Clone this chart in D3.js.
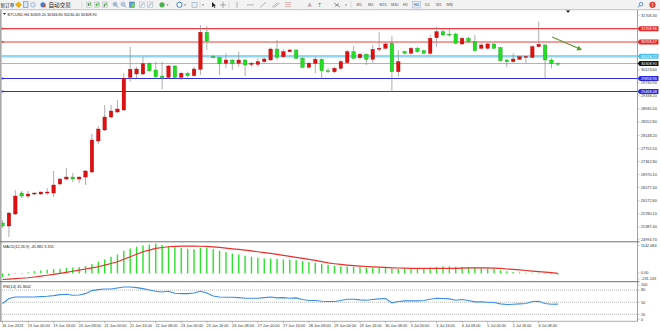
<!DOCTYPE html>
<html>
<head>
<meta charset="utf-8">
<script src="https://cdn.jsdelivr.net/npm/d3@7"></script>
<style>
  body { margin: 0; background: #fff; }
  svg { display: block; font-family: "Liberation Sans", Arial, sans-serif; }
</style>
</head>
<body>
<div id="chart"></div>
<script>
// ---- data ----
const symbolTitle = "BTCUSD,H4 30309.20 30346.80 30240.40 30308.90";

const opens = [25509, 25418, 25780, 26412, 26321, 26381, 26381, 26412, 26412, 26683,
  26833, 26893, 26833, 26893, 27044, 27977, 28308, 28699, 28850, 28910,
  29894, 29994, 29994, 30316, 30114, 29933, 29894, 30234, 29894, 30015,
  29942, 30135, 31249, 30514, 30484, 30316, 30415, 30316, 30415, 30286,
  30286, 30364, 30415, 30746, 30514, 30665, 30716, 30466, 30195, 30316,
  30436, 30090, 30063, 30165, 30334, 30665, 30484, 30587, 30436, 30737,
  30767, 30918, 30063, 30665, 30617, 30767, 30695, 30617, 31086, 31267,
  31189, 31198, 30897, 31068, 30966, 30767, 30767, 30897, 30785, 30415,
  30364, 30436, 30514, 30496, 30815, 30867, 30415, 30309.2];
const highs = [25599, 25840, 26502, 26472, 26472, 26421, 26451, 26562, 27074, 26863,
  27164, 27014, 26910, 27104, 28188, 28428, 29060, 29060, 29211, 30024,
  30815, 30213, 30514, 30346, 30364, 30364, 30264, 30264, 30063, 30063,
  30213, 31469, 31438, 30566, 30514, 30617, 30436, 30665, 30436, 30364,
  30466, 30484, 30797, 31017, 30737, 30746, 30737, 30514, 30364, 30514,
  30466, 30174, 30213, 30415, 30716, 30836, 30635, 30617, 30867, 31249,
  30936, 31137, 30716, 30695, 30815, 30815, 30716, 31168, 31417, 31339,
  31339, 31237, 31116, 31116, 31168, 30918, 30936, 30918, 30815, 30436,
  30617, 30536, 30536, 30867, 31568, 30897, 30466, 30346.8];
const lows = [25358, 25087, 25749, 26261, 26261, 26351, 26351, 26351, 26291, 26652,
  26803, 26743, 26713, 26652, 27014, 27887, 28278, 28669, 28820, 28880,
  29762, 29873, 29963, 30063, 29864, 29533, 29864, 29864, 29813, 29894,
  29912, 29963, 30716, 30466, 29963, 30165, 30114, 30213, 29933, 30204,
  30213, 30334, 30394, 30415, 30496, 30647, 30445, 30165, 30165, 30015,
  29864, 30024, 30015, 30114, 30316, 30436, 30436, 30265, 30334, 30665,
  30737, 29461, 29912, 30587, 30596, 30635, 30596, 30566, 30815, 31137,
  31116, 30897, 30867, 30918, 30665, 30737, 30737, 30737, 30364, 30195,
  30334, 30415, 30316, 30466, 30797, 29864, 30165, 30240.4];
const closes = [25418, 25810, 26321, 26321, 26381, 26412, 26442, 26442, 26653, 26833,
  26893, 26833, 26893, 27074, 28007, 28338, 28699, 28880, 28940, 29864,
  30135, 30144, 30304, 30093, 29912, 29882, 30234, 29894, 30015, 29942,
  30144, 31249, 30987, 30484, 30316, 30415, 30316, 30415, 30265, 30316,
  30364, 30445, 30746, 30496, 30665, 30716, 30466, 30195, 30316, 30436,
  30093, 30080, 30165, 30364, 30665, 30466, 30587, 30436, 30737, 30767,
  30897, 30063, 30364, 30617, 30767, 30665, 30617, 31068, 31267, 31168,
  31168, 30918, 31068, 30966, 30695, 30867, 30897, 30767, 30394, 30364,
  30445, 30514, 30520, 30815, 30888, 30415, 30316, 30308.9];

// MACD(12,26,9): histogram = main line, red line = signal
const macdMain = [-130, -90, -20, 15, 41, 89, 115, 140, 165, 178,
  204, 229, 242, 280, 356, 445, 534, 636, 725, 865,
  954, 1018, 1068, 1100, 1142.684, 1090, 1043, 1018, 979, 941,
  928, 979, 992, 928, 865, 814, 763, 725, 674, 636,
  598, 572, 572, 560, 534, 522, 509, 471, 433, 407,
  369, 331, 300, 275, 265, 255, 240, 225, 215, 215,
  220, 175, 170, 180, 190, 195, 195, 220, 250, 265,
  270, 255, 250, 240, 215, 200, 190, 170, 120, 85,
  60, 40, 20, 25, 30, -5, -30, -45.882];
const macdSignal = [-231.143, -215, -200, -183, -165, -135, -100, -70, -38, 0,
  40, 85, 127, 170, 210, 254, 315, 380, 445, 540,
  636, 730, 827, 890, 954, 990, 1018, 1032, 1043, 1045,
  1043, 1038, 1030, 1012, 992, 968, 941, 915, 890, 858,
  827, 795, 763, 725, 687, 650, 611, 572, 534, 500,
  450, 400, 370, 345, 320, 300, 280, 265, 250, 238,
  228, 216, 208, 200, 195, 192, 191, 191, 192, 194,
  196, 196, 205, 210, 214, 216, 210, 200, 190, 170,
  153, 135, 112, 89, 70, 52, 30, 3.355];

// RSI(14)
const rsi = [46.8, 59.1, 63.1, 63.1, 63.1, 63.1, 64.0, 64.8, 66.4, 68.9,
  69.7, 67.2, 68.0, 71.3, 78.7, 81.1, 82.8, 82.8, 85.2, 87.7,
  87.7, 86.0, 83.6, 80.3, 77.0, 75.4, 77.0, 72.1, 71.3, 71.3,
  72.9, 77.0, 72.9, 65.6, 63.1, 62.3, 62.3, 61.5, 59.9, 59.9,
  59.9, 61.5, 63.1, 60.7, 61.5, 59.9, 60.7, 56.6, 54.2, 54.2,
  52.5, 51.7, 51.7, 54.2, 57.4, 57.4, 55.8, 55.0, 56.6, 58.3,
  59.1, 48.5, 51.7, 53.3, 53.3, 53.3, 54.2, 57.4, 59.9, 59.1,
  58.3, 55.0, 56.6, 54.2, 50.9, 50.9, 50.1, 49.3, 46.0, 44.4,
  45.2, 46.0, 46.8, 51.7, 52.5, 46.8, 45.2, 45.3602];

// time labels, one every 4 bars
const timeLabels = ["16 Jun 2023", "19 Jun 00:00", "19 Jun 16:00", "20 Jun 08:00", "21 Jun 00:00",
  "21 Jun 16:00", "22 Jun 08:00", "23 Jun 00:00", "23 Jun 16:00", "26 Jun 08:00", "27 Jun 00:00",
  "27 Jun 16:00", "28 Jun 08:00", "29 Jun 00:00", "29 Jun 16:00", "30 Jun 08:00", "3 Jul 00:00",
  "3 Jul 16:00", "4 Jul 08:00", "5 Jul 00:00", "5 Jul 16:00", "6 Jul 08:00"];

// price scale labels
const priceTicks = ["30123.60", "29730.90", "29338.20", "28945.50", "28552.80", "28148.20",
  "27755.50", "27362.80", "26970.10", "26577.40", "26172.80", "25780.10", "25387.40"];
const priceMax = 31706.30;
const priceMin = 24994.70;

// horizontal levels drawn on the chart
const levelValues = [31358.96, 30958.47, 30528.72, 30308.90, 29858.96, 29468.48];
const levelKinds = ["red", "red", "cyan", "bid", "blue", "blue"];

const macdMax = 1142.684;
const macdMin = -231.143;
const rsiLevels = [80, 50, 20];
const rsiAxis = [100, 80, 50, 20, 0];

// trend arrow (bar index, price)
const arrowFrom = [86.1, 31107];
const arrowTo = [90.8, 30716];

const timeframes = ["M1", "M5", "M15", "M30", "H1", "H4", "D1", "W1", "MN"];

// ---- layout ----
const width = 660;
const height = 331;
const axisX = 637.5;
const fs = 3.8; // tiny terminal font

const svg = d3.select("#chart")
    .append("svg")
    .attr("width", width)
    .attr("height", height);

const x = d3.scaleLinear().domain([-0.4, 99.4]).range([0, 637]);
const yPrice = d3.scaleLinear().domain([priceMin, priceMax]).range([240.1, 17.1]);
const yMacd = d3.scaleLinear().domain([macdMin, macdMax]).range([279.5, 243.5]);
const yRsi = d3.scaleLinear().domain([0, 100]).range([322.5, 282]);

const defs = svg.append("defs");
function clip(id, y0, y1) {
    defs.append("clipPath").attr("id", id)
        .append("rect").attr("x", 1.5).attr("y", y0).attr("width", axisX - 1.5).attr("height", y1 - y0);
}
clip("cMain", 10, 241);
clip("cMacd", 242.3, 281);
clip("cRsi", 282.3, 321);

// ---- toolbar ----
const tb = svg.append("g");
tb.append("rect").attr("width", width).attr("height", 9.5).attr("fill", "#f2f2f2");
tb.append("line").attr("x1", 0).attr("x2", width).attr("y1", 9.7).attr("y2", 9.7)
    .attr("stroke", "#9a9a9a").attr("stroke-width", 0.6);
tb.append("text").attr("x", 0.5).attr("y", 7).attr("font-size", 4.6)
    .attr("font-family", "Noto Sans CJK SC").attr("fill", "#222").text("新订单");
tb.append("text").attr("x", 48.5).attr("y", 7).attr("font-size", 5.6)
    .attr("font-family", "Noto Sans CJK SC").attr("fill", "#222").text("自动交易");
// simple icon shapes
tb.append("path").attr("d", "M18.5,2 L21.5,4.8 L18.5,7.6 L15.5,4.8Z").attr("fill", "#f0b400").attr("stroke", "#b07800").attr("stroke-width", 0.4);
tb.append("rect").attr("x", 23.5).attr("y", 1.8).attr("width", 4.5).attr("height", 5.6).attr("fill", "#d8e6f6").attr("stroke", "#3a6fb8").attr("stroke-width", 0.5);
tb.append("circle").attr("cx", 33).attr("cy", 4.8).attr("r", 2.4).attr("fill", "#dfe9f3").attr("stroke", "#6a8fb8").attr("stroke-width", 0.5);
tb.append("circle").attr("cx", 43).attr("cy", 4.8).attr("r", 2.6).attr("fill", "#3b82d0");
tb.append("circle").attr("cx", 44.2).attr("cy", 5.8).attr("r", 1.5).attr("fill", "#e04b2a");
const sepX = [82, 153, 200, 229, 351, 452];
sepX.forEach(s => tb.append("line").attr("x1", s).attr("x2", s).attr("y1", 1.5).attr("y2", 8)
    .attr("stroke", "#c4c4c4").attr("stroke-width", 0.5));
[89, 97, 105].forEach((ix, k) => {
    tb.append("rect").attr("x", ix - 2.5).attr("y", 2).attr("width", 5).attr("height", 5.5)
        .attr("fill", "none").attr("stroke", "#9ab").attr("stroke-width", 0.4);
    tb.append("rect").attr("x", ix - 1.2).attr("y", 3 + k * 0.4).attr("width", 1).attr("height", 3)
        .attr("fill", k === 1 ? "#2bb52b" : "#4a7a4a");
    tb.append("rect").attr("x", ix + 0.6).attr("y", 2.6).attr("width", 1).attr("height", 3.2)
        .attr("fill", "#2bb52b");
});
[115, 123].forEach((ix, k) => {
    tb.append("circle").attr("cx", ix).attr("cy", 4.2).attr("r", 2).attr("fill", "#e8f0fa").attr("stroke", "#4a78b0").attr("stroke-width", 0.5);
    tb.append("line").attr("x1", ix + 1.4).attr("x2", ix + 3).attr("y1", 5.6).attr("y2", 7.4).attr("stroke", "#4a78b0").attr("stroke-width", 0.8);
    tb.append("line").attr("x1", ix - 1).attr("x2", ix + 1).attr("y1", 4.2).attr("y2", 4.2).attr("stroke", "#234").attr("stroke-width", 0.4);
    if (k === 0) tb.append("line").attr("x1", ix).attr("x2", ix).attr("y1", 3.2).attr("y2", 5.2).attr("stroke", "#234").attr("stroke-width", 0.4);
});
tb.append("rect").attr("x", 129.5).attr("y", 2).attr("width", 5).attr("height", 5.4).attr("fill", "#5b9bd5").attr("stroke", "#2e6aa8").attr("stroke-width", 0.4);
tb.append("rect").attr("x", 131.5).attr("y", 3.5).attr("width", 3).attr("height", 3.9).attr("fill", "#7ccf63");
[142, 150].forEach(ix => {
    tb.append("rect").attr("x", ix - 2.5).attr("y", 2).attr("width", 5).attr("height", 5.5).attr("fill", "none").attr("stroke", "#9ab").attr("stroke-width", 0.4);
    tb.append("path").attr("d", `M${ix - 1.5},6.5 L${ix + 1.5},3`).attr("stroke", "#4a7aa8").attr("stroke-width", 0.6);
});
tb.append("circle").attr("cx", 162).attr("cy", 4.8).attr("r", 2.6).attr("fill", "#4caf50");
tb.append("circle").attr("cx", 179.5).attr("cy", 4.8).attr("r", 2.6).attr("fill", "#fff").attr("stroke", "#2a6ec0").attr("stroke-width", 0.9);
tb.append("rect").attr("x", 192).attr("y", 2.2).attr("width", 5).attr("height", 5).attr("fill", "#e9eef5").attr("stroke", "#6b88aa").attr("stroke-width", 0.4);
[166.5, 184, 202].forEach(ix => tb.append("path").attr("d", `M${ix},4.5 L${ix + 2},4.5 L${ix + 1},5.7Z`).attr("fill", "#555"));
tb.append("path").attr("d", "M212,2 L212,7.5 L213.4,6.1 L214.6,8 L215.4,7.6 L214.2,5.8 L216,5.8Z").attr("fill", "#222");
tb.append("path").attr("d", "M223,1.8 V8 M220,4.9 H226").attr("stroke", "#666").attr("stroke-width", 0.5);
tb.append("line").attr("x1", 237).attr("x2", 237).attr("y1", 1.8).attr("y2", 8).attr("stroke", "#888").attr("stroke-width", 0.6);
tb.append("line").attr("x1", 247).attr("x2", 254).attr("y1", 4.9).attr("y2", 4.9).attr("stroke", "#888").attr("stroke-width", 0.6);
tb.append("line").attr("x1", 260).attr("x2", 266).attr("y1", 7.5).attr("y2", 2.2).attr("stroke", "#888").attr("stroke-width", 0.6);
tb.append("path").attr("d", "M272,7 L278,2.5 M273.5,7.8 L279.5,3.3").attr("stroke", "#7a7a7a").attr("stroke-width", 0.5);
tb.append("path").attr("d", "M285,2.5 H291 M285,4.5 H291 M285,6.5 H291").attr("stroke", "#c06060").attr("stroke-width", 0.4);
tb.append("text").attr("x", 308).attr("y", 7).attr("font-size", 5).attr("fill", "#666").text("A");
tb.append("text").attr("x", 318).attr("y", 7).attr("font-size", 5).attr("fill", "#666").text("T");
tb.append("path").attr("d", "M334,3 L340,7 M335,6.5 L339,3.5").attr("stroke", "#555").attr("stroke-width", 0.6);
tb.append("path").attr("d", "M345,4.5 L347,4.5 L346,5.7Z").attr("fill", "#555");
const tfX = [356.5, 368, 379.5, 391, 403, 414, 425, 436, 446.5];
timeframes.forEach((t, k) => {
    if (t === "H4") {
        tb.append("rect").attr("x", tfX[k] - 1.6).attr("y", 1.4).attr("width", 8).attr("height", 6.6)
            .attr("fill", "#dde8f5").attr("stroke", "#8aa8cc").attr("stroke-width", 0.4);
    }
    tb.append("text").attr("x", tfX[k]).attr("y", 6.2).attr("font-size", fs).attr("fill", "#555").text(t);
});
tb.append("circle").attr("cx", 641).attr("cy", 4.2).attr("r", 1.8).attr("fill", "none").attr("stroke", "#2a6ec0").attr("stroke-width", 0.7);
tb.append("line").attr("x1", 639.8).attr("x2", 638).attr("y1", 5.5).attr("y2", 7.4).attr("stroke", "#2a6ec0").attr("stroke-width", 0.8);
tb.append("circle").attr("cx", 652.5).attr("cy", 4.8).attr("r", 3.1).attr("fill", "#e53935");
tb.append("text").attr("x", 652.5).attr("y", 6.6).attr("font-size", 4.6).attr("text-anchor", "middle").attr("fill", "#fff").attr("font-weight", "bold").text("!");

// ---- frames ----
const frame = svg.append("g");
frame.append("line").attr("x1", 0.8).attr("x2", 0.8).attr("y1", 10).attr("y2", 321.5)
    .attr("stroke", "#a8a8a8").attr("stroke-width", 1.6);
frame.append("line").attr("x1", axisX).attr("x2", axisX).attr("y1", 10).attr("y2", 321.5)
    .attr("stroke", "#8a8a8a").attr("stroke-width", 0.8);
[241.8, 281.7].forEach(yy => frame.append("line").attr("x1", 0).attr("x2", axisX + 2).attr("y1", yy).attr("y2", yy)
    .attr("stroke", "#6e6e6e").attr("stroke-width", 1));
frame.append("line").attr("x1", 0).attr("x2", axisX).attr("y1", 321.3).attr("y2", 321.3)
    .attr("stroke", "#8a8a8a").attr("stroke-width", 0.7);

// ---- main pane ----
const main = svg.append("g").attr("clip-path", "url(#cMain)");

// horizontal levels
const levelStyle = {
    red: { stroke: "#ef3b3b", w: 1.1, box: "#e3262b" },
    cyan: { stroke: "#8fd6f2", w: 2.4, box: "#4cc0ea" },
    bid: { stroke: "#8f8f8f", w: 0.7, box: "#111111" },
    blue: { stroke: "#2f2fe0", w: 1.1, box: "#2a2ad8" }
};
levelValues.forEach((v, k) => {
    const st = levelStyle[levelKinds[k]];
    main.append("line")
        .attr("x1", 0).attr("x2", axisX)
        .attr("y1", yPrice(v)).attr("y2", yPrice(v))
        .attr("stroke", st.stroke).attr("stroke-width", st.w);
    if (levelKinds[k] !== "bid") {
        main.append("rect").attr("x", 1.6).attr("y", yPrice(v) - 0.9).attr("width", 1.8).attr("height", 1.8)
            .attr("fill", st.stroke);
    }
});

// candles
const idx = d3.range(closes.length);
const candles = main.append("g").selectAll("g").data(idx).join("g");
candles.append("line")
    .attr("x1", i => x(i)).attr("x2", i => x(i))
    .attr("y1", i => yPrice(highs[i])).attr("y2", i => yPrice(lows[i]))
    .attr("stroke", "#8a8a8a").attr("stroke-width", 0.7);
candles.append("rect")
    .attr("x", i => x(i) - 1.75)
    .attr("width", 3.5)
    .attr("y", i => yPrice(Math.max(opens[i], closes[i])))
    .attr("height", i => Math.max(0.8, Math.abs(yPrice(opens[i]) - yPrice(closes[i]))))
    .attr("fill", i => closes[i] > opens[i] ? "#e01010" : "#22dd22")
    .attr("stroke", i => closes[i] > opens[i] ? "#a80000" : "#0f9a0f")
    .attr("stroke-width", 0.35);

// trend arrow
const ax0 = x(arrowFrom[0]), ay0 = yPrice(arrowFrom[1]);
const ax1 = x(arrowTo[0]), ay1 = yPrice(arrowTo[1]);
const ang = Math.atan2(ay1 - ay0, ax1 - ax0);
svg.append("line")
    .attr("x1", ax0).attr("y1", ay0)
    .attr("x2", ax1 - 3 * Math.cos(ang)).attr("y2", ay1 - 3 * Math.sin(ang))
    .attr("stroke", "#5b9a2e").attr("stroke-width", 1.2);
svg.append("path")
    .attr("d", `M0,0 L-5,-2.6 L-5,2.6Z`)
    .attr("transform", `translate(${ax1},${ay1}) rotate(${ang * 180 / Math.PI})`)
    .attr("fill", "#5b9a2e");

// chart shift marker
svg.append("path")
    .attr("d", `M${x(88.6) - 2.2},10.4 L${x(88.6) + 2.2},10.4 L${x(88.6)},12.8Z`)
    .attr("fill", "#111");

// title
svg.append("path").attr("d", "M3,13 L6,13 L4.5,15Z").attr("fill", "#333");
svg.append("text").attr("x", 7.5).attr("y", 15.6).attr("font-size", fs).attr("fill", "#222").text(symbolTitle);

// price axis labels
const pAxis = svg.append("g");
function axisLabel(g, yy, str, color) {
    g.append("line").attr("x1", axisX).attr("x2", axisX + 2).attr("y1", yy).attr("y2", yy)
        .attr("stroke", "#8a8a8a").attr("stroke-width", 0.5);
    g.append("text").attr("x", 641).attr("y", yy + 1.35).attr("font-size", fs)
        .attr("fill", color || "#333").text(str);
}
priceTicks.forEach(t => axisLabel(pAxis, yPrice(+t), t));
axisLabel(pAxis, 15.3, priceMax.toFixed(2));
axisLabel(pAxis, 239.2, priceMin.toFixed(2));

// level labels on the axis
levelValues.forEach((v, k) => {
    const st = levelStyle[levelKinds[k]];
    const yy = yPrice(v);
    pAxis.append("path")
        .attr("d", `M${axisX},${yy} L${axisX + 2.2},${yy - 2.5} L${axisX + 21},${yy - 2.5} L${axisX + 21},${yy + 2.5} L${axisX + 2.2},${yy + 2.5}Z`)
        .attr("fill", st.box);
    pAxis.append("text").attr("x", 641).attr("y", yy + 1.35).attr("font-size", fs)
        .attr("fill", "#fff").text(v.toFixed(2));
});

// ---- MACD pane ----
const macdG = svg.append("g").attr("clip-path", "url(#cMacd)");
macdG.selectAll("rect").data(idx).join("rect")
    .attr("x", i => x(i) - 0.7)
    .attr("width", 1.4)
    .attr("y", i => Math.min(yMacd(0), yMacd(macdMain[i])))
    .attr("height", i => Math.max(0.6, Math.abs(yMacd(0) - yMacd(macdMain[i]))))
    .attr("fill", "#2ee02e");
macdG.append("path")
    .datum(idx)
    .attr("fill", "none")
    .attr("stroke", "#e8302c")
    .attr("stroke-width", 1.2)
    .attr("d", d3.line().x(i => x(i)).y(i => yMacd(macdSignal[i])));
svg.append("text").attr("x", 3).attr("y", 247.6).attr("font-size", fs).attr("fill", "#222")
    .text(`MACD(12,26,9) ${macdMain[macdMain.length - 1].toFixed(3)} ${macdSignal[macdSignal.length - 1].toFixed(3)}`);
const mAxis = svg.append("g");
axisLabel(mAxis, 245.6, macdMax.toFixed(3));
axisLabel(mAxis, yMacd(0) - 0.6, "0.00");
axisLabel(mAxis, 279, macdMin.toFixed(3));

// ---- RSI pane ----
const rsiG = svg.append("g").attr("clip-path", "url(#cRsi)");
rsiLevels.forEach(l => rsiG.append("line")
    .attr("x1", 0).attr("x2", axisX)
    .attr("y1", yRsi(l)).attr("y2", yRsi(l))
    .attr("stroke", "#8c8c8c").attr("stroke-width", 0.6).attr("stroke-dasharray", "1,1"));
rsiG.append("path")
    .datum(idx)
    .attr("fill", "none")
    .attr("stroke", "#3b8ee8")
    .attr("stroke-width", 1.1)
    .attr("d", d3.line().x(i => x(i)).y(i => yRsi(rsi[i])));
svg.append("text").attr("x", 3).attr("y", 288).attr("font-size", fs).attr("fill", "#222")
    .text(`RSI(14) ${rsi[rsi.length - 1].toFixed(4)}`);
const rAxis = svg.append("g");
rsiAxis.forEach(v => {
    const yy = v === 100 ? 285 : v === 0 ? 319.2 : yRsi(v);
    axisLabel(rAxis, yy, String(v));
});

// ---- time axis ----
const tAxis = svg.append("g");
timeLabels.forEach((t, k) => {
    const xx = x(k * 4);
    tAxis.append("line").attr("x1", xx).attr("x2", xx).attr("y1", 321.3).attr("y2", 323.2)
        .attr("stroke", "#777").attr("stroke-width", 0.5);
    tAxis.append("text").attr("x", xx - 0.3).attr("y", 327.2).attr("font-size", fs)
        .attr("fill", "#333").text(t);
});
</script>
</body>
</html>
